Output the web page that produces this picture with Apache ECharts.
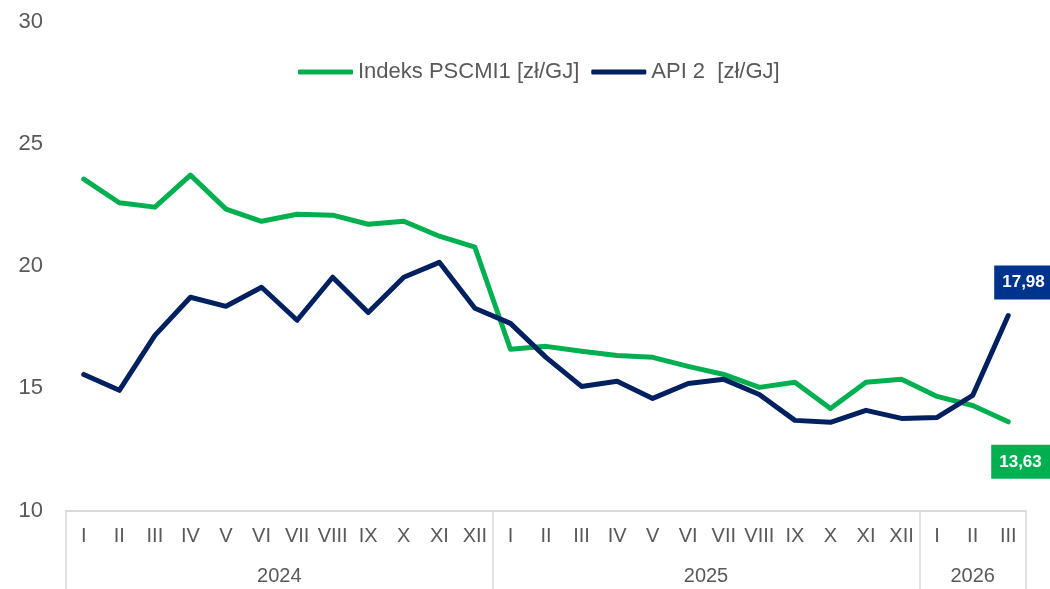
<!DOCTYPE html>
<html>
<head>
<meta charset="utf-8">
<script src="https://cdn.jsdelivr.net/npm/echarts@6/dist/echarts.min.js"></script>
<style>html,body{margin:0;padding:0;background:#fff;}#chart{width:1050px;height:589px;}</style>
</head>
<body>
<div id="chart"></div>
<script>
var months = ['I','II','III','IV','V','VI','VII','VIII','IX','X','XI','XII',
              'I','II','III','IV','V','VI','VII','VIII','IX','X','XI','XII',
              'I','II','III'];
var years = ['2024','2025','2026'];
var yearMonthCounts = [12, 12, 3];
var pscmi = [23.57,22.60,22.42,23.73,22.34,21.84,22.13,22.09,21.72,21.84,21.23,20.78,
             16.60,16.72,16.52,16.35,16.27,15.90,15.57,15.04,15.25,14.18,15.25,15.37,
             14.67,14.30,13.63];
var api2 = [15.57,14.92,17.17,18.73,18.36,19.14,17.79,19.55,18.11,19.55,20.16,18.28,
            17.66,16.27,15.08,15.29,14.59,15.20,15.37,14.75,13.69,13.61,14.10,13.77,
            13.81,14.71,17.98];
var seriesNames = ['Indeks PSCMI1 [zł/GJ]', 'API 2  [zł/GJ]'];
var yTicks = {min: 10, max: 30, step: 5};

var bounds = [0], centers = [];
yearMonthCounts.reduce(function (acc, n) {
  centers.push(acc + n / 2);
  bounds.push(acc + n);
  return acc + n;
}, 0);

function fmt(v) { return v.toFixed(2).replace('.', ','); }

function endLabel(bg, offs) {
  return {
    show: true, distance: 5, offset: offs,
    formatter: function (p) { return fmt(p.value); },
    backgroundColor: bg, color: '#fff',
    fontFamily: 'Liberation Sans', fontWeight: 'bold', fontSize: 17,
    padding: [9, 9, 8, 8]
  };
}

var chart = echarts.init(document.getElementById('chart'), null, {renderer: 'canvas'});
var font = 'Liberation Sans';
chart.setOption({
  animation: false,
  textStyle: {fontFamily: font},
  grid: {left: 66, right: 24, top: 22, bottom: 78.5, containLabel: false},
  legend: {
    top: 56, left: 293,
    itemWidth: 55, itemHeight: 5, itemGap: 12,
    icon: 'roundRect',
    textStyle: {fontFamily: font, fontSize: 22, color: '#595959'},
    data: seriesNames
  },
  xAxis: [{
    type: 'category', data: months, boundaryGap: true,
    axisLine: {show: true, lineStyle: {color: '#d9d9d9', width: 2}},
    axisTick: {show: false},
    axisLabel: {interval: 0, margin: 16, fontSize: 20, color: '#595959', fontFamily: font},
    splitLine: {show: false}
  }, {
    type: 'value', min: 0, max: months.length, position: 'bottom',
    axisLine: {show: false},
    axisTick: {show: true, customValues: bounds, length: 80, lineStyle: {color: '#d9d9d9', width: 1.5}},
    axisLabel: {
      show: true, customValues: centers, margin: 56, fontSize: 20, color: '#595959', fontFamily: font,
      formatter: function (v) { return years[centers.indexOf(v)] || ''; }
    },
    splitLine: {show: false}
  }],
  yAxis: {
    type: 'value', min: yTicks.min, max: yTicks.max, interval: yTicks.step,
    axisLine: {show: false}, axisTick: {show: false}, splitLine: {show: false},
    axisLabel: {fontSize: 22, color: '#595959', margin: 23, fontFamily: font}
  },
  series: [{
    name: seriesNames[0], type: 'line', xAxisIndex: 0,
    data: pscmi, showSymbol: false, color: '#00B050',
    lineStyle: {width: 5, color: '#00B050', cap: 'round', join: 'round'},
    endLabel: endLabel('#00B050', [-22, 40]),
    z: 2
  }, {
    name: seriesNames[1], type: 'line', xAxisIndex: 0,
    data: api2, showSymbol: false, color: '#002060',
    lineStyle: {width: 5, color: '#002060', cap: 'round', join: 'round'},
    endLabel: endLabel('#00338D', [-19, -33]),
    z: 3
  }]
});
</script>
</body>
</html>
